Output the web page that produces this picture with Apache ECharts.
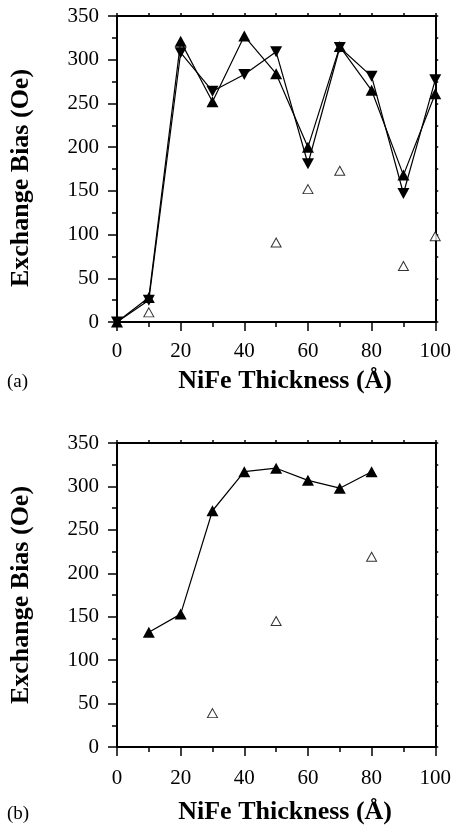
<!DOCTYPE html>
<html>
<head>
<meta charset="utf-8">
<script src="https://cdn.jsdelivr.net/npm/echarts@6/dist/echarts.min.js"></script>
<style>
  html, body { margin: 0; padding: 0; background: #fff; }
  #chart { width: 454px; height: 829px; }
</style>
</head>
<body>
<div id="chart"></div>
<script>
// panel (a)
const thicknessA = [0, 10, 20, 30, 40, 50, 60, 70, 80, 90, 100];
const biasUpA = [0, 28, 321, 252, 327, 284, 200, 315, 265, 168, 261];
const biasDownA = [0, 25, 308, 264, 283, 309, 181, 314, 281, 147, 277];
const openXA = [10, 50, 60, 70, 90, 100];
const openA = [11, 91, 152, 173, 64, 98];

// panel (b)
const thicknessB = [10, 20, 30, 40, 50, 60, 70, 80];
const biasUpB = [132, 153, 272, 317, 321, 307, 298, 317];
const openXB = [30, 50, 80];
const openB = [39, 145, 219];

const xTicks = [0, 20, 40, 60, 80, 100];
const yTicks = [0, 50, 100, 150, 200, 250, 300, 350];

const FONT = "Liberation Serif";
const pairs = (xs, ys) => xs.map((x, i) => [x, ys[i]]);

function bottomX(grid, gap, margin) {
  return {
    gridIndex: grid, type: "value", min: 0, max: 100, interval: 20,
    position: "bottom",
    name: "NiFe Thickness (Å)", nameLocation: "middle", nameGap: gap,
    nameTextStyle: { fontFamily: FONT, fontWeight: "bold", fontSize: 26, color: "#000", padding: [0, 0, 0, 18] },
    axisLine: { onZero: false, lineStyle: { color: "#000", width: 2 } },
    axisTick: { inside: false, length: 9, lineStyle: { color: "#000", width: 1.5 } },
    minorTick: { show: true, splitNumber: 2, length: 5, lineStyle: { color: "#000", width: 1.5 } },
    axisLabel: {
      margin: margin, fontFamily: FONT, fontSize: 21, color: "#000",
      formatter: v => xTicks.includes(v) ? String(v) : ""
    },
    splitLine: { show: false }
  };
}
function topX(grid) {
  return {
    gridIndex: grid, type: "value", min: 0, max: 100, interval: 10, position: "top",
    axisLine: { onZero: false, lineStyle: { color: "#000", width: 2 } },
    axisTick: { inside: false, length: 3, lineStyle: { color: "#000", width: 1.5 } },
    axisLabel: { show: false }, splitLine: { show: false }
  };
}
function leftY(grid, pad) {
  return {
    gridIndex: grid, type: "value", min: 0, max: 350, interval: 50, position: "left",
    name: "Exchange Bias (Oe)", nameLocation: "middle", nameGap: 83,
    nameTextStyle: { fontFamily: FONT, fontWeight: "bold", fontSize: 26, color: "#000", padding: pad },
    axisLine: { onZero: false, lineStyle: { color: "#000", width: 2 } },
    axisTick: { inside: false, length: 9, lineStyle: { color: "#000", width: 1.5 } },
    minorTick: { show: true, splitNumber: 2, length: 5, lineStyle: { color: "#000", width: 1.5 } },
    axisLabel: {
      margin: 18, fontFamily: FONT, fontSize: 21, color: "#000",
      formatter: v => yTicks.includes(v) ? String(v) : ""
    },
    splitLine: { show: false }
  };
}
function rightY(grid) {
  return {
    gridIndex: grid, type: "value", min: 0, max: 350, interval: 25, position: "right",
    axisLine: { onZero: false, lineStyle: { color: "#000", width: 2 } },
    axisTick: { inside: false, length: 3, lineStyle: { color: "#000", width: 1.5 } },
    axisLabel: { show: false }, splitLine: { show: false }
  };
}

function filledLine(xi, yi, data, down) {
  return {
    type: "line", xAxisIndex: xi, yAxisIndex: yi, data,
    symbol: "triangle", symbolSize: [12, 11], symbolRotate: down ? 180 : 0,
    lineStyle: { color: "#000", width: 1.2 },
    itemStyle: { color: "#000" }
  };
}
function openPts(xi, yi, data) {
  return {
    type: "scatter", xAxisIndex: xi, yAxisIndex: yi, data,
    symbol: "triangle", symbolSize: [10, 9],
    itemStyle: { color: "#fff", borderColor: "#000", borderWidth: 1 }
  };
}

const myChart = echarts.init(document.getElementById("chart"), null, { renderer: "canvas" });
const option = {
  animation: false,
  backgroundColor: "#fff",
  grid: [
    { left: 117, top: 16, width: 322, height: 306 },
    { left: 117, top: 443, width: 322, height: 304 }
  ],
  xAxis: [bottomX(0, 46, 19), topX(0), bottomX(1, 52, 21), topX(1)],
  yAxis: [leftY(0, [0, 18, 0, 0]), rightY(0), leftY(1, 0), rightY(1)],
  series: [
    filledLine(0, 0, pairs(thicknessA, biasUpA), false),
    filledLine(0, 0, pairs(thicknessA, biasDownA), true),
    openPts(0, 0, pairs(openXA, openA)),
    filledLine(2, 2, pairs(thicknessB, biasUpB), false),
    openPts(2, 2, pairs(openXB, openB))
  ],
  graphic: [
    { type: "text", left: 7, top: 373, style: { text: "(a)", font: "19px 'Liberation Serif'", fill: "#000" } },
    { type: "text", left: 7, top: 805, style: { text: "(b)", font: "19px 'Liberation Serif'", fill: "#000" } }
  ]
};
myChart.setOption(option);
</script>
</body>
</html>
